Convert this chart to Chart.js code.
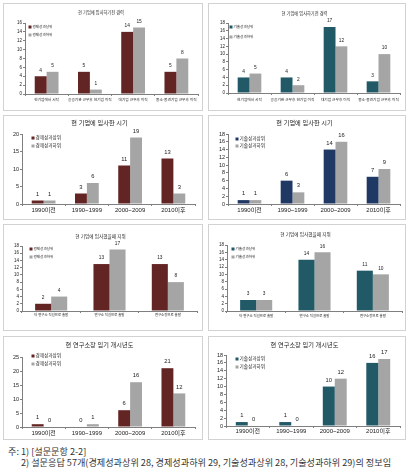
<!DOCTYPE html>
<html>
<head>
<meta charset="utf-8">
<script src="https://cdn.jsdelivr.net/npm/chart.js@4.4.0/dist/chart.umd.min.js"></script>
<style>
body { margin: 0; background: #fff; width: 413px; height: 475px; position: relative; overflow: hidden; }
.box { position: absolute; border: 1px solid #d2d2d2; box-sizing: border-box; background: #fff; }
.box div { position: absolute; left: 0; top: 0; right: 0; bottom: 0; }
.note { position: absolute; font-family: 'Noto Sans CJK KR', sans-serif; font-size: 9.15px; line-height: 11px; color: #333; white-space: nowrap; }
</style>
</head>
<body>
<script>
var FONT = "'Liberation Sans', 'Noto Sans CJK KR', sans-serif";
var TEXT = '#222';
var AXIS = '#7f7f7f';

// categories
var cat_career = ['현기업에서 시작', '공공기관 근무후 현기업 이직', '대기업 근무후 이직', '중소·중견기업 근무후 이직'];
var cat_period = ['1990이전', '1990~1999', '2000~2009', '2010이후'];
var cat_status = ['타 연구소 직원으로 출발', '연구소 직원으로 출발', '연구소장으로 출발'];

// series
var econ_high_career = [4, 5, 14, 5];
var econ_low_career  = [5, 1, 15, 8];
var tech_high_career = [4, 4, 17, 3];
var tech_low_career  = [5, 2, 12, 10];

var econ_high_join = [1, 3, 11, 13];
var econ_low_join  = [1, 6, 19, 3];
var tech_high_join = [1, 6, 14, 7];
var tech_low_join  = [1, 3, 16, 9];

var econ_high_status = [2, 13, 13];
var econ_low_status  = [4, 17, 8];
var tech_high_status = [3, 14, 11];
var tech_low_status  = [3, 16, 10];

var econ_high_term = [1, 0, 6, 21];
var econ_low_term  = [0, 1, 16, 12];
var tech_high_term = [1, 1, 10, 16];
var tech_low_term  = [0, 0, 12, 17];

// y axis ranges
var y_max  = [16, 18, 20, 18, 18, 18, 25, 18];
var y_step = [2, 2, 5, 2, 2, 2, 5, 2];

var econ_names = ['경제성과상위', '경제성과하위'];
var tech_names = ['기술성과상위', '기술성과하위'];
var MAROON = '#632523', TEAL = '#215967', NAVY = '#1f3864', GRAY = '#a5a5a5';

var barValues = {
	id: 'barValues',
	afterDatasetsDraw: function(chart, args, opts) {
		var ctx = chart.ctx;
		ctx.save();
		ctx.font = opts.size + 'px ' + FONT;
		ctx.fillStyle = TEXT;
		ctx.textAlign = 'center';
		ctx.textBaseline = 'middle';
		chart.data.datasets.forEach(function(ds, i) {
			chart.getDatasetMeta(i).data.forEach(function(bar, j) {
				ctx.fillText(ds.data[j], bar.x, bar.y - opts.lift);
			});
		});
		ctx.restore();
	}
};

// y tick labels, placed from the y scale's own ticks
var yLabels = {
	id: 'yLabels',
	afterDraw: function(chart, args, opts) {
		var ctx = chart.ctx, y = chart.scales.y;
		ctx.save();
		ctx.font = opts.size + 'px ' + FONT;
		ctx.fillStyle = TEXT;
		ctx.textAlign = 'right';
		ctx.textBaseline = 'middle';
		y.ticks.forEach(function(t) {
			ctx.fillText(String(t.value), y.right - 3, y.getPixelForValue(t.value));
		});
		ctx.restore();
	}
};

var innerLegend = {
	id: 'innerLegend',
	afterDraw: function(chart, args, opts) {
		var ctx = chart.ctx, area = chart.chartArea;
		ctx.save();
		ctx.font = opts.size + 'px ' + FONT;
		ctx.textAlign = 'left';
		ctx.textBaseline = 'middle';
		chart.data.datasets.forEach(function(ds, i) {
			var x = area.left + opts.dx, y = area.top + opts.dy + i * opts.gap;
			ctx.fillStyle = ds.backgroundColor;
			ctx.fillRect(x - 1.5, y - 1.5, 3, 3);
			ctx.fillStyle = TEXT;
			ctx.fillText(ds.label, x + 2.5, y);
		});
		ctx.restore();
	}
};

var F_SMALL  = {title: 4.2, y: 4.5, x: 3.7, legend: 3.6, value: 4.8};
var F_STATUS = {title: 4.6, y: 4.5, x: 3.4, legend: 3.6, value: 4.8};
var F_BIG    = {title: 6.2, y: 5.5, x: 6.0, legend: 4.6, value: 5.8};

function makePanel(p) {
	var box = document.createElement('div');
	box.className = 'box';
	box.style.left = p.box[0] + 'px';
	box.style.top = p.box[1] + 'px';
	box.style.width = p.box[2] + 'px';
	box.style.height = p.box[3] + 'px';
	var holder = document.createElement('div');
	var cv = document.createElement('canvas');
	holder.appendChild(cv);
	box.appendChild(holder);
	document.body.appendChild(box);

	var ox = p.box[0] + 1, oy = p.box[1] + 1;
	var cw = p.box[2] - 2, ch = p.box[3] - 2;
	var a = {l: p.area[0] - ox, t: p.area[1] - oy, r: p.area[2] - ox, b: p.area[3] - oy};
	var f = p.font;
	var tlh = f.title * 1.2;
	var ty = p.titleY - oy;
	var xpad = Math.max(0, p.xLabY - p.area[3] - 2 - f.x * 0.5);

	new Chart(cv, {
		type: 'bar',
		data: {
			labels: p.labels,
			datasets: [
				{label: p.names[0], data: p.high, backgroundColor: p.colors[0], categoryPercentage: 0.55, barPercentage: 1},
				{label: p.names[1], data: p.low, backgroundColor: p.colors[1], categoryPercentage: 0.55, barPercentage: 1}
			]
		},
		options: {
			responsive: true,
			maintainAspectRatio: false,
			animation: false,
			layout: {padding: {left: 0, top: 0, right: cw - a.r, bottom: 0}},
			plugins: {
				legend: {display: false},
				tooltip: {enabled: false},
				title: {
					display: true, text: p.title, color: TEXT,
					font: {family: FONT, size: f.title, weight: 'normal', lineHeight: 1.2},
					padding: {top: ty - tlh / 2, bottom: a.t - ty - tlh / 2}
				},
				barValues: {size: f.value, lift: p.lift},
				yLabels: {size: f.y},
				innerLegend: {size: f.legend, dx: p.legend[0] - p.area[0], dy: p.legend[1] - p.area[1], gap: p.legend[2]}
			},
			scales: {
				x: {
					grid: {display: true, drawOnChartArea: false, offset: true, tickLength: 2, color: AXIS},
					border: {display: true, color: AXIS},
					ticks: {font: {family: FONT, size: f.x}, color: TEXT, padding: xpad, autoSkip: false, maxRotation: 0, minRotation: 0},
					afterFit: function(s) { s.height = ch - a.b; }
				},
				y: {
					min: 0, max: p.ymax,
					grid: {display: true, drawOnChartArea: false, tickLength: 2, color: AXIS},
					border: {display: true, color: AXIS},
					ticks: {display: false, stepSize: p.ystep, autoSkip: false, font: {family: FONT, size: f.y}},
					afterFit: function(s) { s.width = a.l; }
				}
			}
		},
		plugins: [barValues, yLabels, innerLegend]
	});
}

var panels = [
	{box: [3, 3, 200, 108], area: [25, 23, 198, 94], titleY: 13, xLabY: 100, legend: [30, 27, 8], lift: 6,
	 title: '현 기업에 입사하기전 경력', labels: cat_career, names: econ_names, high: econ_high_career, low: econ_low_career,
	 colors: [MAROON, GRAY], ymax: y_max[0], ystep: y_step[0], font: F_SMALL},
	{box: [208, 3, 198, 108], area: [228, 23, 400, 93], titleY: 14, xLabY: 100, legend: [231, 27, 10], lift: 6,
	 title: '현 기업에 입사하기전 경력', labels: cat_career, names: tech_names, high: tech_high_career, low: tech_low_career,
	 colors: [TEAL, GRAY], ymax: y_max[1], ystep: y_step[1], font: F_SMALL},
	{box: [3, 115, 200, 105], area: [22, 134, 195, 204], titleY: 123, xLabY: 210, legend: [33, 138, 8], lift: 6.5,
	 title: '현 기업에 입사한 시기', labels: cat_period, names: econ_names, high: econ_high_join, low: econ_low_join,
	 colors: [MAROON, GRAY], ymax: y_max[2], ystep: y_step[2], font: F_BIG},
	{box: [208, 115, 198, 105], area: [228, 134, 400, 204], titleY: 123, xLabY: 210, legend: [237, 139, 7], lift: 6.5,
	 title: '현 기업에 입사한 시기', labels: cat_period, names: tech_names, high: tech_high_join, low: tech_low_join,
	 colors: [NAVY, GRAY], ymax: y_max[3], ystep: y_step[3], font: F_BIG},
	{box: [3, 224, 200, 107], area: [22, 246, 197, 311], titleY: 237, xLabY: 315, legend: [31, 249, 8], lift: 6,
	 title: '현 기업에 입사했을때 지위', labels: cat_status, names: econ_names, high: econ_high_status, low: econ_low_status,
	 colors: [MAROON, GRAY], ymax: y_max[4], ystep: y_step[4], font: F_STATUS},
	{box: [208, 224, 198, 107], area: [227, 245, 402, 311], titleY: 235, xLabY: 316, legend: [233, 249, 8], lift: 6,
	 title: '현 기업에 입사했을때 지위', labels: cat_status, names: tech_names, high: tech_high_status, low: tech_low_status,
	 colors: [TEAL, GRAY], ymax: y_max[5], ystep: y_step[5], font: F_STATUS},
	{box: [3, 336, 200, 104], area: [22, 357, 195, 427], titleY: 345, xLabY: 433, legend: [33, 356, 8], lift: 6.5,
	 title: '현 연구소장 임기 개시년도', labels: cat_period, names: econ_names, high: econ_high_term, low: econ_low_term,
	 colors: [MAROON, GRAY], ymax: y_max[6], ystep: y_step[6], font: F_BIG},
	{box: [208, 336, 198, 104], area: [226, 355, 400, 426], titleY: 345, xLabY: 431, legend: [237, 359, 8], lift: 6.5,
	 title: '현 연구소장 임기 개시년도', labels: cat_period, names: tech_names, high: tech_high_term, low: tech_low_term,
	 colors: [TEAL, GRAY], ymax: y_max[7], ystep: y_step[7], font: F_BIG}
];

panels.forEach(makePanel);
</script>
<div class="note" style="left:8px;top:446px">주: 1) [설문문항 2-2]</div>
<div class="note" style="left:21px;top:457px">2) 설문응답 57개(경제성과상위 28, 경제성과하위 29, 기술성과상위 28, 기술성과하위 29)의 정보임</div>
</body>
</html>
